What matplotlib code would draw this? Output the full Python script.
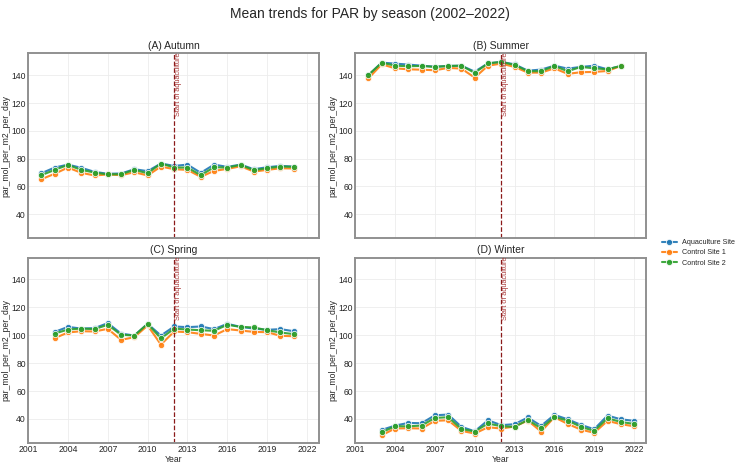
import numpy as np
import matplotlib
matplotlib.use('Agg')
import matplotlib.pyplot as plt
import seaborn as sns

sns.set_style('whitegrid')
plt.rcParams['font.family'] = ['Liberation Sans', 'DejaVu Sans']

sites = ['Aquaculture Site', 'Control Site 1', 'Control Site 2']
colors = ['#1f77b4', '#ff7f0e', '#2ca02c']

# autumn 2002-2021
autumn_years = list(range(2002, 2022))
autumn_aqua = [69.4, 73.5, 75.6, 73.3, 70.4, 69.0, 69.2, 72.3, 70.9, 76.4,
               74.7, 75.6, 69.7, 75.6, 74.0, 75.6, 72.3, 73.7, 74.7, 74.2]
autumn_c1 = [65.1, 69.0, 73.5, 69.7, 67.8, 68.5, 68.0, 70.1, 67.8, 74.2,
             72.3, 71.8, 66.8, 71.1, 72.5, 74.4, 70.6, 71.8, 73.0, 72.8]
autumn_c2 = [68.0, 71.8, 75.4, 71.8, 69.9, 68.5, 68.7, 71.8, 69.4, 76.4,
             73.5, 73.5, 68.0, 73.7, 73.5, 75.4, 71.6, 73.0, 74.2, 74.0]

# summer 2002-2021
summer_years = list(range(2002, 2022))
summer_aqua = [140.2, 149.1, 148.4, 147.7, 146.9, 146.2, 146.7, 146.9, 142.6, 148.6,
               149.6, 147.9, 143.3, 144.1, 146.9, 144.8, 146.0, 146.9, 144.3, 146.7]
summer_c1 = [137.8, 147.9, 145.0, 144.3, 144.0, 143.6, 145.3, 144.8, 138.3, 146.9,
             148.4, 146.0, 141.9, 141.9, 145.0, 141.0, 142.2, 142.4, 143.1, 146.7]
summer_c2 = [140.2, 149.1, 146.9, 146.5, 146.7, 146.0, 146.7, 146.9, 141.7, 148.6,
             149.6, 147.4, 142.9, 142.9, 146.7, 142.9, 146.0, 145.0, 144.3, 146.7]

# spring 2003-2021
spring_years = list(range(2003, 2022))
spring_aqua = [102.4, 106.0, 104.8, 105.1, 108.7, 101.2, 99.8, 108.2, 99.8, 106.3,
               105.8, 106.3, 104.4, 108.2, 106.0, 104.8, 103.9, 104.4, 102.9]
spring_c1 = [97.9, 102.0, 102.9, 102.7, 104.6, 96.7, 98.6, 107.0, 93.3, 102.7,
             102.2, 101.0, 99.8, 104.4, 103.4, 102.4, 102.2, 99.6, 99.3]
spring_c2 = [101.2, 104.1, 104.8, 104.4, 107.5, 100.3, 99.8, 108.2, 97.7, 104.8,
             104.1, 103.6, 103.2, 107.5, 106.0, 105.6, 103.6, 102.0, 100.8]

# winter 2003-2022
winter_years = list(range(2003, 2023))
winter_aqua = [32.1, 35.2, 37.1, 36.9, 42.6, 43.1, 34.3, 31.1, 39.0, 35.5,
               36.2, 41.0, 35.0, 42.9, 39.7, 35.7, 32.6, 42.4, 39.7, 38.6]
winter_c1 = [28.3, 33.1, 33.3, 33.1, 38.6, 39.0, 31.4, 29.5, 34.0, 33.1,
             34.5, 38.8, 30.9, 41.2, 36.4, 32.3, 30.0, 38.6, 36.2, 34.7]
winter_c2 = [30.4, 34.7, 34.7, 35.2, 40.7, 41.2, 32.8, 30.9, 36.7, 34.7,
             34.3, 39.3, 33.3, 41.4, 38.8, 34.3, 31.4, 40.5, 37.8, 36.4]

panels = [
    ('(A) Autumn', autumn_years, [autumn_aqua, autumn_c1, autumn_c2]),
    ('(B) Summer', summer_years, [summer_aqua, summer_c1, summer_c2]),
    ('(C) Spring', spring_years, [spring_aqua, spring_c1, spring_c2]),
    ('(D) Winter', winter_years, [winter_aqua, winter_c1, winter_c2]),
]
start_year = 2012
xticks = list(range(2001, 2023, 3))

fig = plt.figure(figsize=(7.4, 4.65), dpi=100)
boxes = [[0.038, 0.4875, 0.393, 0.3975], [0.48, 0.4875, 0.393, 0.3975],
         [0.038, 0.0467, 0.393, 0.3993], [0.48, 0.0467, 0.393, 0.3993]]

axes = []
for i, (title, years, series) in enumerate(panels):
    ax = fig.add_axes(boxes[i])
    axes.append(ax)
    for name, vals, c in zip(sites, series, colors):
        ax.plot(years, vals, color=c, lw=1.5, marker='o', ms=4.5,
                markeredgecolor='white', markeredgewidth=0.6, label=name, alpha=0.9)
    ax.axvline(start_year, color='#8b1a1a', ls='--', lw=0.9)
    ax.text(start_year + 0.08, 156.3, 'Start of aquaculture', rotation=90,
            color='#a83838', fontsize=5.3, va='top', ha='left')
    ax.set_xlim(2001, 2022.9)
    ax.set_ylim(22.5, 155.7)
    ax.set_xticks(xticks)
    ax.set_yticks([40, 60, 80, 100, 120, 140])
    ax.tick_params(labelsize=6.2, pad=1.5, length=0)
    ax.grid(True, color='#ececec', lw=0.6)
    for s in ax.spines.values():
        s.set_edgecolor('#909090')
        s.set_linewidth(1.4)
    ax.set_title(title, fontsize=7.5, pad=3)
    ax.set_ylabel('par_mol_per_m2_per_day', fontsize=6.2, labelpad=1)
    if i < 2:
        ax.set_xticklabels([])
    else:
        ax.set_xlabel('Year', fontsize=6.2, labelpad=0.5)

handles, labels = axes[0].get_legend_handles_labels()
fig.legend(handles, labels, loc='center left', bbox_to_anchor=(0.892, 0.456),
           frameon=False, fontsize=5.2, handlelength=2.2, handletextpad=0.7,
           labelspacing=0.45, borderpad=0.1, borderaxespad=0.1)

fig.suptitle('Mean trends for PAR by season (2002–2022)', fontsize=10, y=0.985)

fig.savefig('out.png', dpi=100)
